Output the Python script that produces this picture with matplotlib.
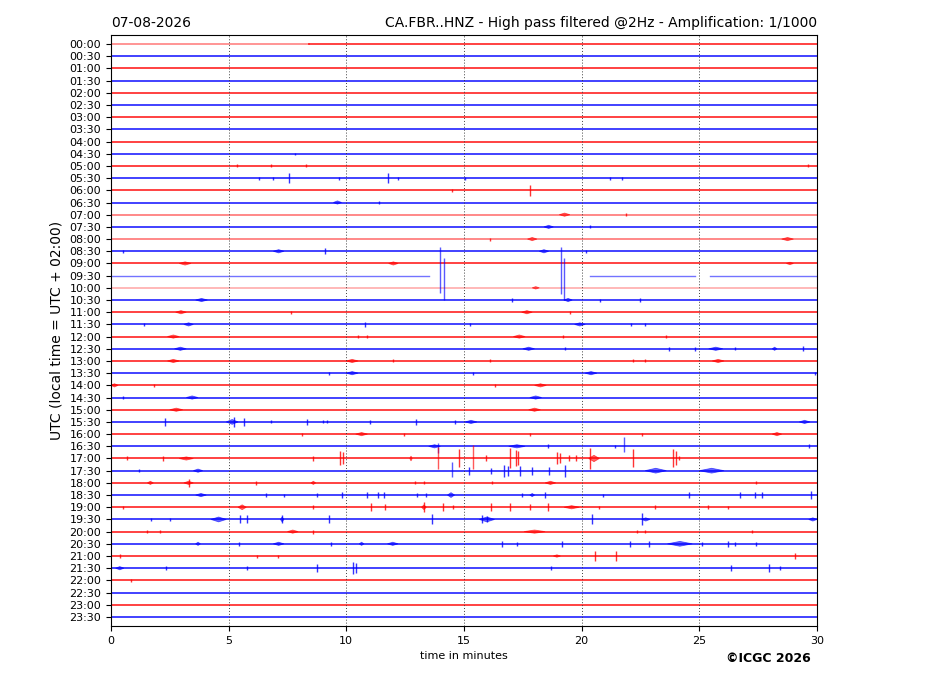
import matplotlib
matplotlib.use("Agg")
import matplotlib.pyplot as plt

# half-hour rows of the helicorder
row_labels = ["00:00", "00:30", "01:00", "01:30", "02:00", "02:30", "03:00", "03:30",
              "04:00", "04:30", "05:00", "05:30", "06:00", "06:30", "07:00", "07:30",
              "08:00", "08:30", "09:00", "09:30", "10:00", "10:30", "11:00", "11:30",
              "12:00", "12:30", "13:00", "13:30", "14:00", "14:30", "15:00", "15:30",
              "16:00", "16:30", "17:00", "17:30", "18:00", "18:30", "19:00", "19:30",
              "20:00", "20:30", "21:00", "21:30", "22:00", "22:30", "23:00", "23:30"]
x_ticks = [0, 5, 10, 15, 20, 25, 30]

# row 09:30 has data gaps: (start, end) in minutes
gap_row = 19
gap_row_segments = [(0.0, 13.5), (20.35, 24.8), (25.45, 30.0)]

# single spikes: (row, minute, half amplitude)
spikes = [
    (9, 7.8, 1.2),
    (10, 5.35, 1.5), (10, 6.8, 1.5), (10, 8.3, 1.5), (10, 29.6, 1.5),
    (11, 6.3, 1.5), (11, 6.9, 1.5), (11, 7.58, 5), (11, 9.7, 1.5), (11, 11.78, 5),
    (11, 12.2, 1.5), (11, 15.05, 1.5), (11, 21.2, 1.5), (11, 21.7, 1.5),
    (12, 14.5, 1.5), (12, 17.8, 5.5),
    (13, 11.4, 1.5), (14, 21.9, 1.5), (15, 20.35, 1.5), (16, 16.1, 1.5),
    (17, 0.5, 1.5), (17, 9.1, 3), (17, 20.2, 1.5),
    (21, 17.05, 2), (21, 20.8, 1.5), (21, 22.5, 2),
    (22, 7.65, 1.5), (22, 19.5, 1.5),
    (23, 1.4, 1.5), (23, 10.8, 2.5), (23, 15.25, 1.5), (23, 22.1, 1.5), (23, 22.7, 1.5),
    (24, 10.5, 1.5), (24, 10.9, 1.5), (24, 19.2, 1.5), (24, 23.6, 1.5),
    (25, 19.3, 1.5), (25, 23.7, 2), (25, 24.8, 2), (25, 26.5, 1.5), (25, 29.4, 2.5),
    (26, 12.0, 1.5), (26, 16.1, 1.5), (26, 22.2, 1.5), (26, 22.7, 1.5),
    (27, 9.25, 1.5), (27, 15.4, 1.5), (27, 29.9, 1.5),
    (28, 1.85, 1.5), (28, 16.3, 1.5),
    (29, 0.5, 1.5),
    (31, 2.3, 4), (31, 5.23, 5), (31, 5.65, 4), (31, 6.8, 1.5), (31, 8.35, 3),
    (31, 9.0, 1.5), (31, 9.2, 1.5), (31, 11.0, 2), (31, 12.95, 3), (31, 14.6, 2),
    (32, 8.1, 1.5), (32, 12.45, 1.5), (32, 17.8, 1.5), (32, 22.55, 1.5),
    (33, 18.55, 2), (33, 21.4, 1.5), (33, 29.65, 2),
    (34, 0.7, 2), (34, 2.2, 2.5), (34, 8.6, 2.5), (34, 9.75, 7), (34, 9.85, 6),
    (34, 14.8, 9), (34, 15.95, 3), (34, 16.95, 10), (34, 17.2, 8), (34, 17.3, 7),
    (34, 18.95, 6), (34, 19.1, 5), (34, 19.45, 3), (34, 19.75, 3), (34, 20.35, 11),
    (34, 22.2, 9), (34, 23.9, 9), (34, 24.0, 7), (34, 24.15, 2),
    (35, 1.2, 1.5), (35, 15.2, 4), (35, 16.15, 3), (35, 16.7, 6), (35, 16.85, 5),
    (35, 17.4, 5), (35, 17.9, 4), (35, 18.6, 4), (35, 19.3, 6),
    (36, 3.3, 4), (36, 6.15, 2), (36, 12.9, 1.5), (36, 13.3, 1.5), (36, 16.2, 1.5), (36, 27.4, 1.5),
    (37, 6.6, 2), (37, 7.35, 1.5), (37, 8.75, 2), (37, 9.8, 3), (37, 10.9, 3),
    (37, 11.35, 3), (37, 11.6, 3), (37, 13.0, 2), (37, 13.4, 2), (37, 17.45, 2),
    (37, 18.45, 3), (37, 20.9, 1.5), (37, 24.55, 3), (37, 26.75, 3), (37, 27.35, 3),
    (37, 27.65, 3), (37, 29.75, 4),
    (38, 0.5, 1.5), (38, 8.6, 2), (38, 11.05, 4), (38, 11.65, 3), (38, 13.3, 5),
    (38, 14.1, 4), (38, 14.55, 2), (38, 16.15, 4), (38, 16.95, 4), (38, 17.8, 3),
    (38, 18.55, 4), (38, 20.75, 1.5), (38, 23.1, 2), (38, 25.35, 2), (38, 26.2, 1.5),
    (39, 1.7, 1.5), (39, 2.5, 1.5), (39, 5.5, 4), (39, 5.8, 4), (39, 7.25, 4),
    (39, 9.25, 4), (39, 13.65, 5), (39, 15.75, 4), (39, 16.0, 3), (39, 20.45, 5), (39, 22.55, 6),
    (40, 1.55, 1.5), (40, 2.1, 1.5), (40, 8.6, 2), (40, 22.35, 1.5), (40, 22.7, 1.5), (40, 27.25, 1.5),
    (41, 5.45, 2), (41, 9.35, 2), (41, 16.6, 3), (41, 17.25, 2), (41, 19.15, 3),
    (41, 22.05, 3), (41, 22.85, 3), (41, 25.1, 2), (41, 26.2, 3), (41, 26.5, 2), (41, 27.4, 2),
    (42, 0.4, 2), (42, 6.2, 1.5), (42, 7.1, 1.5), (42, 20.55, 5), (42, 21.45, 5), (42, 29.05, 3),
    (43, 2.35, 2), (43, 5.8, 2), (43, 8.75, 4), (43, 10.3, 6), (43, 10.4, 5),
    (43, 18.7, 2), (43, 26.35, 3), (43, 27.95, 4), (43, 28.45, 2),
    (44, 0.85, 1.5),
]

# asymmetric spikes: (row, minute, top offset, bottom offset)
glitches = [
    (19, 13.98, -29, 17), (19, 14.15, -18, 24),
    (19, 19.13, -29, 18), (19, 19.26, -18, 24),
    (33, 13.9, -3, 7), (33, 21.8, -9, 6),
    (34, 13.9, -12, 11), (34, 15.4, -14, 11),
    (35, 14.5, -9, 6),
]

# wave trains: (row, start minute, end minute, half amplitude)
bursts = [
    (13, 9.45, 9.8, 2), (14, 19.05, 19.5, 2), (15, 18.4, 18.8, 2),
    (16, 17.7, 18.1, 2), (16, 28.5, 29.0, 2),
    (17, 6.9, 7.35, 2), (17, 18.2, 18.6, 2),
    (18, 2.9, 3.4, 2), (18, 11.8, 12.2, 2), (18, 28.7, 29.0, 1.5),
    (20, 17.9, 18.2, 1.5),
    (21, 3.6, 4.1, 2), (21, 19.25, 19.6, 2),
    (22, 2.75, 3.2, 2), (22, 17.45, 17.9, 2),
    (23, 3.1, 3.5, 2), (23, 19.7, 20.15, 2),
    (24, 2.4, 2.9, 2), (24, 17.1, 17.6, 2),
    (25, 2.7, 3.2, 2), (25, 17.5, 18.0, 2), (25, 25.4, 26.0, 2), (25, 28.1, 28.3, 2),
    (26, 2.4, 2.9, 2), (26, 10.0, 10.5, 2), (26, 25.55, 26.05, 2),
    (27, 10.0, 10.5, 2), (27, 20.15, 20.65, 2),
    (28, 0.0, 0.3, 2), (28, 18.0, 18.5, 2),
    (29, 3.2, 3.7, 2), (29, 17.8, 18.3, 2),
    (30, 2.5, 3.05, 2), (30, 17.75, 18.25, 2),
    (31, 4.9, 5.4, 3), (31, 15.05, 15.55, 2), (31, 29.25, 29.7, 2),
    (32, 10.4, 10.9, 2), (32, 28.1, 28.5, 2),
    (33, 13.5, 14.0, 2), (33, 16.9, 17.6, 2),
    (34, 2.9, 3.5, 2), (34, 12.7, 12.8, 3), (34, 20.3, 20.75, 4),
    (35, 3.5, 3.9, 2), (35, 22.7, 23.6, 3), (35, 25.0, 26.05, 3),
    (36, 1.55, 1.8, 2), (36, 3.1, 3.5, 2), (36, 8.5, 8.7, 2), (36, 18.45, 18.9, 2),
    (37, 3.6, 4.05, 2), (37, 14.3, 14.6, 3), (37, 17.8, 18.0, 2),
    (38, 5.4, 5.75, 3), (38, 13.2, 13.4, 3), (38, 19.25, 19.9, 2),
    (39, 4.25, 4.9, 3), (39, 7.2, 7.35, 3), (39, 15.65, 16.3, 3), (39, 22.55, 22.9, 2), (39, 29.65, 30.0, 2),
    (40, 7.5, 7.95, 2), (40, 17.55, 18.45, 2),
    (41, 3.6, 3.8, 2), (41, 6.9, 7.35, 2), (41, 10.55, 10.75, 2), (41, 11.75, 12.2, 2), (41, 23.65, 24.7, 3),
    (42, 18.8, 19.1, 1.5),
    (43, 0.2, 0.55, 2),
]

scale = 1 / 12.2  # amplitude units per row spacing
pale_rows = {14: 0.5, 16: 0.5, 20: 0.3}


def row_color(r):
    return "red" if r % 2 == 0 else "blue"


fig = plt.figure(figsize=(9.27, 6.96), dpi=100)
ax = fig.add_axes([0.1197, 0.1006, 0.7616, 0.8491])

n_rows = len(row_labels)
for r in range(n_rows):
    c = row_color(r)
    if r == gap_row:
        for t0, t1 in gap_row_segments:
            ax.plot([t0, t1], [r, r], color=c, lw=1.0, alpha=0.55)
    elif r == 0:
        # first part of the day is paler
        ax.plot([0, 8.4], [r, r], color=c, lw=1.3, alpha=0.45)
        ax.plot([8.4, 30], [r, r], color=c, lw=1.3, alpha=0.8)
    else:
        ax.plot([0, 30], [r, r], color=c, lw=1.3, alpha=pale_rows.get(r, 0.8))

for r, t, a in spikes:
    ax.vlines(t, r - a * scale, r + a * scale, color=row_color(r), lw=1.0, alpha=0.8)

for r, t, top, bot in glitches:
    ax.vlines(t, r + top * scale, r + bot * scale, color=row_color(r), lw=1.0, alpha=0.65)

for r, t0, t1, a in bursts:
    tm = (t0 + t1) / 2
    ax.fill([t0, tm, t1, tm], [r, r - a * 0.8 * scale, r, r + a * 0.8 * scale],
            color=row_color(r), lw=0.6, alpha=0.6)

for xv in x_ticks[1:-1]:
    ax.axvline(xv, color="0.25", lw=0.7, ls=(0, (1, 2)))

ax.set_xlim(0, 30)
ax.set_ylim(n_rows - 1 + 0.74, -0.74)
ax.set_xticks(x_ticks)
ax.set_yticks(range(n_rows))
ax.set_yticklabels(row_labels)
ax.tick_params(labelsize=8)
ax.set_xlabel("time in minutes", fontsize=8)
ax.set_ylabel("UTC (local time = UTC + 02:00)", fontsize=10)
ax.set_title("07-08-2026", loc="left", fontsize=10)
ax.set_title("CA.FBR..HNZ - High pass filtered @2Hz - Amplification: 1/1000", loc="right", fontsize=10)

fig.text(0.875, 0.054, "©ICGC 2026", ha="right", va="center", fontsize=9, fontweight="bold")

fig.savefig("out.png", dpi=100)
